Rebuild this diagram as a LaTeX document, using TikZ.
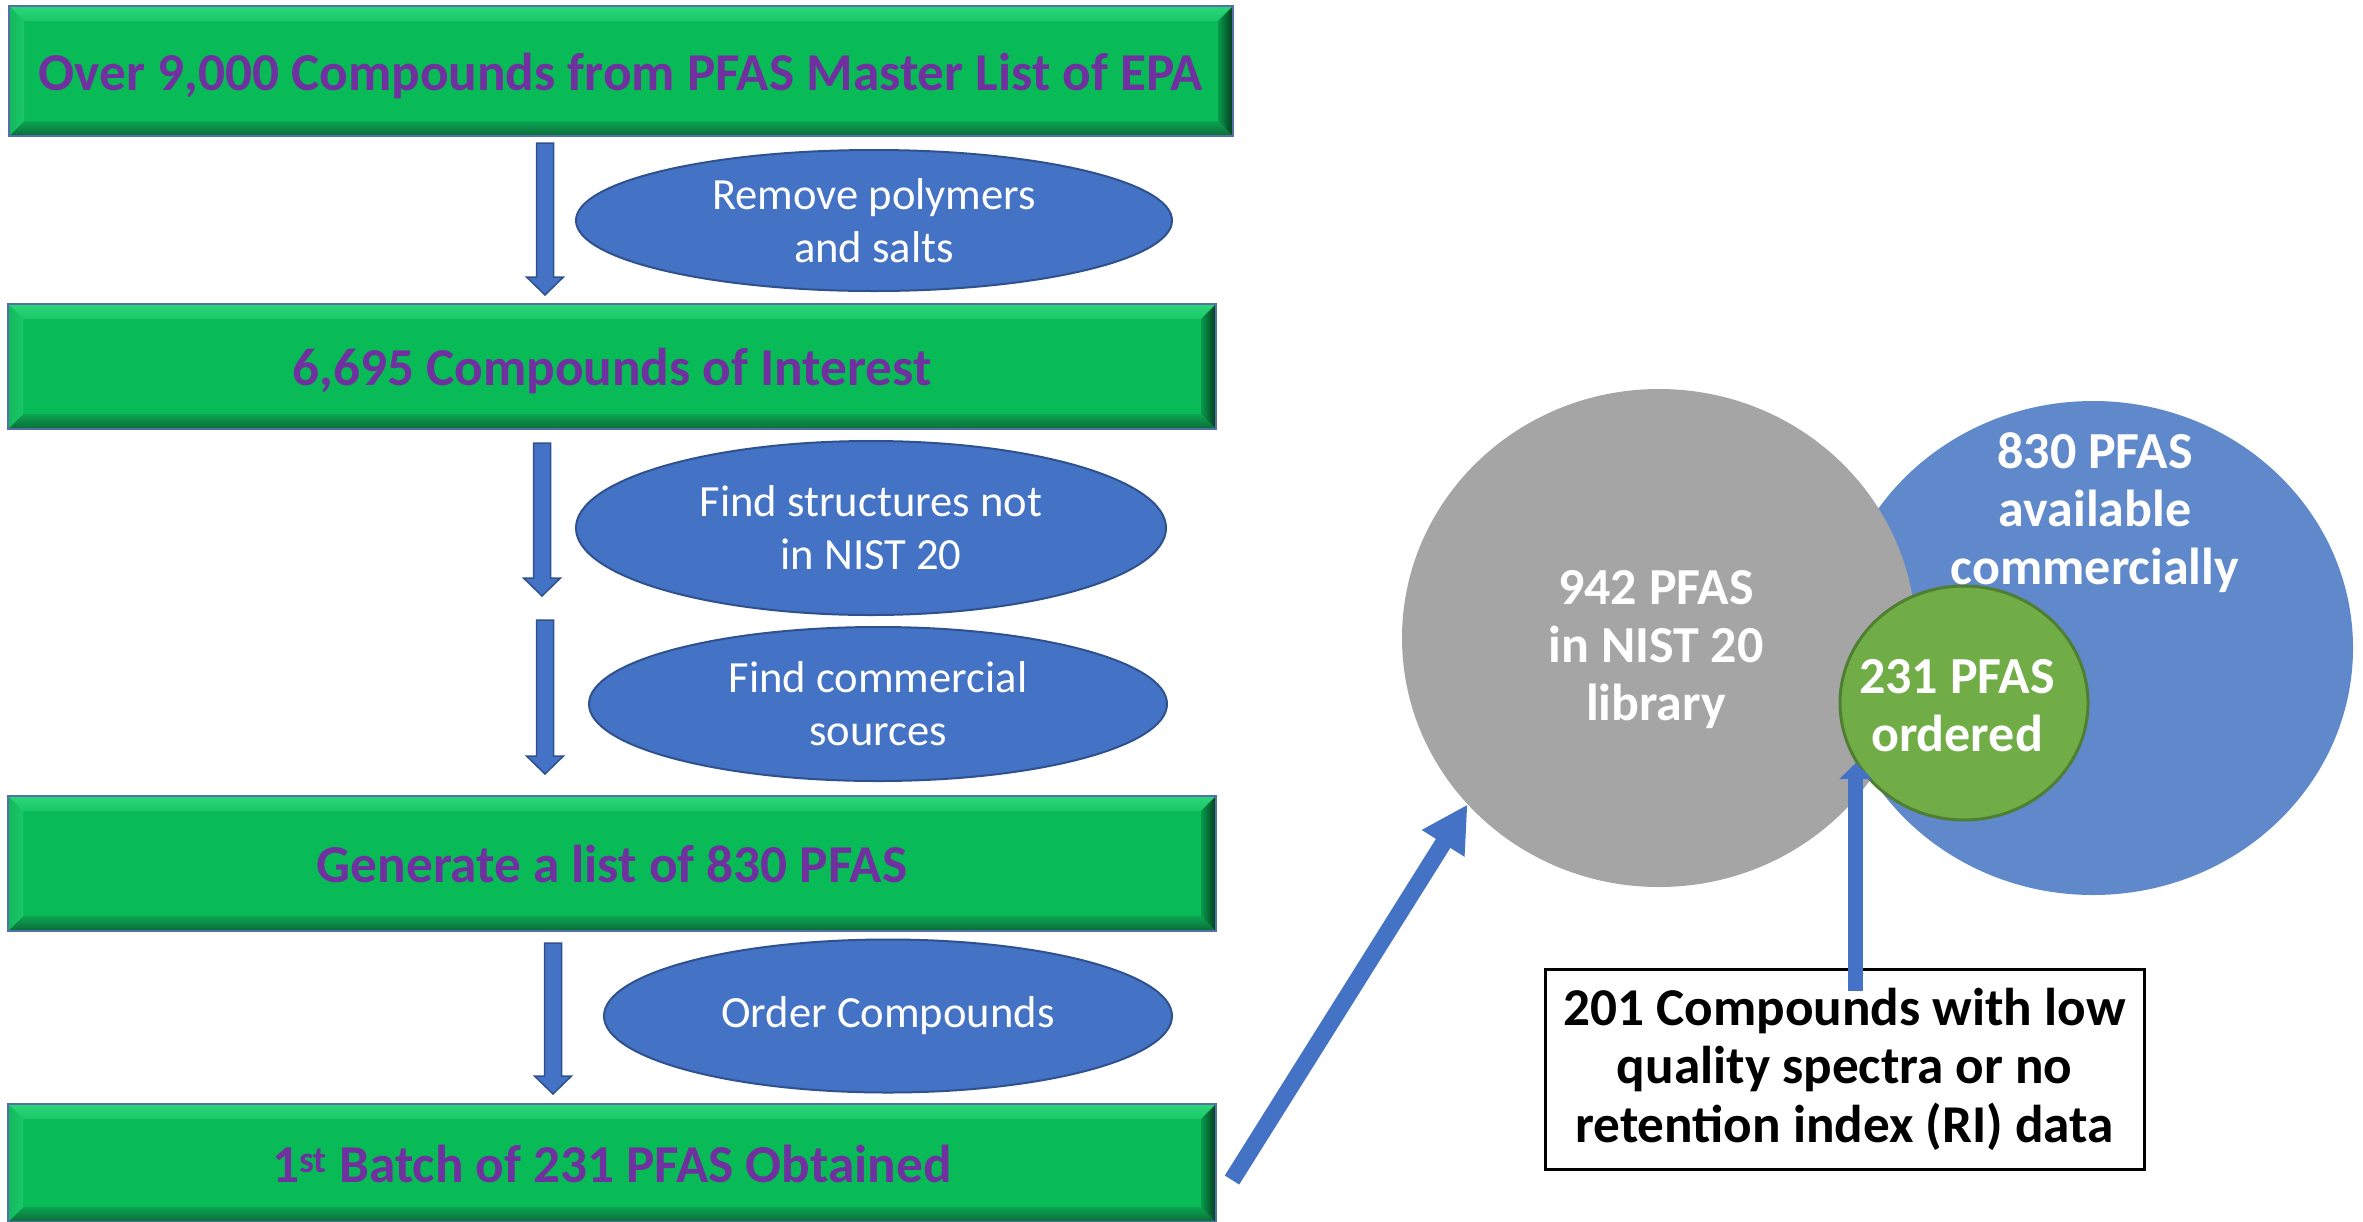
\documentclass[tikz,border=0pt]{standalone}
\usepackage{fontspec}
\setmainfont{Carlito}
\usetikzlibrary{arrows.meta,shapes.geometric,calc}
\definecolor{facegreen}{HTML}{09BB57}
\definecolor{boxedge}{HTML}{5470A8}
\definecolor{purpletext}{HTML}{7030A0}
\definecolor{ellblue}{HTML}{4472C4}
\definecolor{elledge}{HTML}{2F528F}
\definecolor{circgray}{HTML}{A5A5A5}
\definecolor{circblue}{HTML}{6089CB}
\definecolor{circgreen}{HTML}{70AD47}
\definecolor{greenedge}{HTML}{507E32}
\definecolor{bevTopA}{HTML}{2BD57A}
\definecolor{bevTopB}{HTML}{45F29A}
\definecolor{bevTopC}{HTML}{1BC868}
\definecolor{bevBotA}{HTML}{0BA552}
\definecolor{bevBotB}{HTML}{0B6A37}
\definecolor{bevLeftA}{HTML}{13B85C}
\definecolor{bevLeftB}{HTML}{1CC66A}
\definecolor{bevRightA}{HTML}{079A4A}
\definecolor{bevRightB}{HTML}{063A20}
\newcommand\bevelbox[1]{%
  \shade[top color=bevTopA, middle color=bevTopB, bottom color=bevTopC]
    let \p1=(#1.south west), \p2=(#1.north east) in
    (\x1,\y2) -- (\x2,\y2) -- (\x2-15pt,\y2-15pt) -- (\x1+15pt,\y2-15pt) -- cycle;
  \shade[top color=bevBotA, bottom color=bevBotB]
    let \p1=(#1.south west), \p2=(#1.north east) in
    (\x1,\y1) -- (\x2,\y1) -- (\x2-15pt,\y1+15pt) -- (\x1+15pt,\y1+15pt) -- cycle;
  \shade[left color=bevLeftA, right color=bevLeftB]
    let \p1=(#1.south west), \p2=(#1.north east) in
    (\x1,\y1) -- (\x1,\y2) -- (\x1+15pt,\y2-15pt) -- (\x1+15pt,\y1+15pt) -- cycle;
  \shade[left color=bevRightA, right color=bevRightB]
    let \p1=(#1.south west), \p2=(#1.north east) in
    (\x2,\y1) -- (\x2,\y2) -- (\x2-15pt,\y2-15pt) -- (\x2-15pt,\y1+15pt) -- cycle;
  \draw[boxedge, line width=2pt] (#1.south west) rectangle (#1.north east);}
\newcommand\flowarrow[2]{%
  \filldraw[fill=ellblue, draw=elledge, line width=1.5pt, line join=miter]
    let \p1=#1, \p2=#2 in
    (\x1-8.5pt,\y1) -- (\x1+8.5pt,\y1) -- (\x1+8.5pt,\y2+18pt) -- (\x1+18.5pt,\y2+18pt)
    -- (\x1,\y2) -- (\x1-18.5pt,\y2+18pt) -- (\x1-8.5pt,\y2+18pt) -- cycle;}
\begin{document}
\begin{tikzpicture}[x=1pt,y=-1pt,
  greenbox/.style={rectangle, fill=facegreen, draw=boxedge, line width=2pt, inner sep=0pt,
    text height=44pt, text depth=6pt,
    text=purpletext, font=\fontsize{53.3}{62}\selectfont\bfseries},
  stepell/.style={ellipse, fill=ellblue, draw=elledge, line width=2pt, inner sep=0pt,
    text=white, align=center, font=\fontsize{44.6}{53}\selectfont},
  circtext/.style={text=white, align=center, inner sep=0pt, font=\fontsize{52}{58}\selectfont\bfseries},
  bigarrow/.style={draw=ellblue, line width=#1},
]
\useasboundingbox (0,0) rectangle (2363,1221);
\fill[white] (0,0) rectangle (2363,1221);

% green process boxes
\node[greenbox, minimum width=1222pt, minimum height=128pt] (B1) at (621,71)
  {Over 9,000 Compounds from PFAS Master List of EPA};
\bevelbox{B1}
\node[greenbox, minimum width=1206pt, minimum height=123pt] (B2) at (612,366.5)
  {6,695 Compounds of Interest};
\bevelbox{B2}
\node[greenbox, minimum width=1206pt, minimum height=133pt] (B3) at (612,863.5)
  {Generate a list of 830 PFAS};
\bevelbox{B3}
\node[greenbox, minimum width=1206pt, minimum height=116pt] (B4) at (612,1163)
  {1\textsuperscript{st} Batch of 231 PFAS Obtained};
\bevelbox{B4}

% step ellipses
\node[stepell, minimum width=596pt, minimum height=141pt] (E1) at (874,220.5)
  {Remove polymers\\and salts};
\node[stepell, minimum width=590pt, minimum height=174pt] (E2) at (871,528)
  {Find structures not\\in NIST 20};
\node[stepell, minimum width=578pt, minimum height=154pt] (E3) at (878,704)
  {Find commercial\\sources};
\node[stepell, minimum width=568pt, minimum height=153pt] (E4) at (888,1016)
  {Order Compounds};

% arrow columns
\coordinate (c1) at (545,0);
\coordinate (c2) at (542,0);
\coordinate (c3) at (545,0);
\coordinate (c4) at (553,0);
\coordinate (m23) at (543,608);
\flowarrow{($(B1.south -| c1)+(0,7)$)}{($(B2.north -| c1)+(0,-9)$)}
\flowarrow{($(B2.south -| c2)+(0,14)$)}{($(m23 -| c2)+(0,-12)$)}
\flowarrow{($(m23 -| c3)+(0,12)$)}{($(B3.north -| c3)+(0,-22)$)}
\flowarrow{($(B3.south -| c4)+(0,12)$)}{($(B4.north -| c4)+(0,-10)$)}

% Venn part
\node[ellipse, fill=circblue, inner sep=0pt, minimum width=520pt, minimum height=494pt] (blue) at (2093,648) {};
\node[ellipse, fill=circgray, inner sep=0pt, minimum width=514pt, minimum height=498pt] (gray) at (1659,638) {};
\node[ellipse, fill=circgreen, draw=greenedge, line width=3pt, inner sep=0pt, minimum width=248pt, minimum height=234pt] (green) at (1964,703) {};
\node[circtext] (graytext) at (1656,650) {942 PFAS\\in NIST 20\\library};
\node[circtext] (bluetext) at (2095,513) {830 PFAS\\available\\commercially};
\node[circtext] (greentext) at (1957,706) {231 PFAS\\ordered};

% diagonal arrow
\draw[bigarrow=17pt, -{Triangle[length=46pt,width=47pt]}] ($(B4.east)+(16,17)$) -- (gray.221);

% note box
\node[draw=black, line width=3pt, fill=white, inner sep=0pt, minimum width=599pt, minimum height=200pt,
  align=center, font=\fontsize{53.2}{58.5}\selectfont\bfseries] (note) at (1844.5,1069)
  {201 Compounds with low\\quality spectra or no\\retention index (RI) data};
\draw[bigarrow=15pt, -{Triangle[length=16pt,width=32pt]}] ($(note.north -| green.209)+(0,23)$) -- (green.209);
\end{tikzpicture}
\end{document}
